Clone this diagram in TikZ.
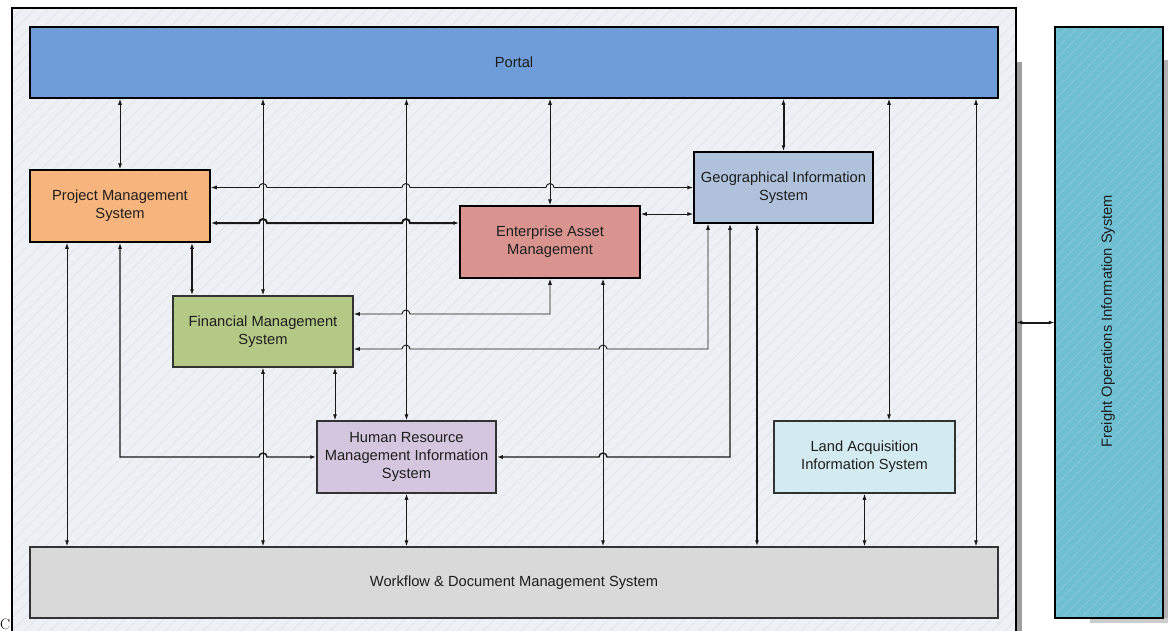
\documentclass[tikz,border=0pt]{standalone}
\usepackage{fontspec}
\newfontfamily\sys{Liberation Sans}
\usetikzlibrary{arrows.meta,patterns.meta}
\definecolor{cbg}{HTML}{EDF0F4}
\definecolor{chatch}{HTML}{DCE0E6}
\definecolor{cportal}{HTML}{6F9DD9}
\definecolor{cpms}{HTML}{F8B47D}
\definecolor{cfms}{HTML}{B5C986}
\definecolor{ceam}{HTML}{D99490}
\definecolor{cgis}{HTML}{B0C2DB}
\definecolor{chr}{HTML}{D3C6DE}
\definecolor{cland}{HTML}{D3EBF0}
\definecolor{cwf}{HTML}{D9D9D9}
\definecolor{cfr}{HTML}{6EBFD2}
\definecolor{cfrhatch}{HTML}{8CCEDD}
\definecolor{ctxt}{HTML}{1E1E1E}
\newcommand\hopR[2]{-- (#1-4,#2) arc[start angle=180,end angle=0,radius=4pt]}
\newcommand\hopL[2]{-- (#1+4,#2) arc[start angle=0,end angle=180,radius=4pt]}
\tikzset{
  sysbox/.style={draw=black, line width=1.5pt, inner sep=0pt, align=center,
    minimum width=180pt, minimum height=71pt,
    font=\sys\fontsize{14.7}{18}\selectfont, text=ctxt},
  lowbox/.style={sysbox, draw=black!80},
  conn/.style={line width=0.9pt, draw=black!90, {Latex[length=6pt,width=4pt]}-{Latex[length=6pt,width=4pt]}},
  connM/.style={conn, line width=1.4pt},
  connB/.style={conn, line width=2pt},
}
\begin{document}
\begin{tikzpicture}[x=1pt,y=-1pt]
\useasboundingbox (0,0) rectangle (1172,630);
% container
\fill[gray!75] (1016,62) rectangle (1022,640);
\node[draw=black, line width=1.5pt, minimum width=1004pt, minimum height=632pt, inner sep=0pt,
  preaction={fill=cbg}, pattern={Lines[angle=45,distance=9pt,line width=0.5pt]}, pattern color=chatch] (cont) at (514,324) {};
% freight
\fill[gray!60] (1163,60) rectangle (1168,622);
\fill[gray!40] (1090,618) rectangle (1168,623);
\node[draw=black, line width=1.5pt, minimum width=108pt, minimum height=591pt, inner sep=0pt,
  preaction={fill=cfr}, pattern={Lines[angle=45,distance=7pt,line width=0.5pt]}, pattern color=cfrhatch] (freight) at (1109,322.5) {};
\node[rotate=90, font=\sys\fontsize{14.7}{18}\selectfont, text=ctxt] (freighttxt) at (1108,321) {Freight Operations Information System};
% boxes
\node[sysbox, fill=cportal, minimum width=968pt] (portal) at (514,62.5) {Portal};
\node[sysbox, fill=cpms, minimum height=72pt] (pms) at (120,206) {Project Management\\System};
\node[lowbox, fill=cfms] (fms) at (263,331.5) {Financial Management\\System};
\node[sysbox, fill=ceam, minimum height=72pt] (eam) at (550,242) {Enterprise Asset\\Management};
\node[sysbox, fill=cgis, minimum width=179pt] (gis) at (783.5,187.5) {Geographical Information\\System};
\node[lowbox, fill=chr, minimum width=179pt, minimum height=72pt] (hr) at (406.5,457) {Human Resource\\Management Information\\System};
\node[lowbox, fill=cland, minimum width=181pt, minimum height=72pt] (land) at (864.5,457) {Land Acquisition\\Information System};
\node[lowbox, fill=cwf, minimum width=968pt] (wf) at (514,582.5) {Workflow \& Document Management System};
% stray character
\node[anchor=base west, inner sep=0pt, font=\fontsize{15}{15}\selectfont] (cchar) at (0,629) {C};
% helper coordinates
\coordinate (c67) at (67,0);
\coordinate (c192) at (192,0);
\coordinate (c214) at (0,214);
\coordinate (c223) at (0,223);
\coordinate (c314) at (0,314);
\coordinate (c335) at (335,0);
\coordinate (c603) at (603,0);
\coordinate (c708) at (708,349);
\coordinate (c730) at (730,457);
\coordinate (c757) at (757,0);
\coordinate (c889) at (889,0);
\coordinate (c976) at (976,0);
% portal verticals
\draw[conn] (portal.south -| pms.north) -- (pms.north);
\draw[conn] (portal.south -| fms.north) -- (fms.north);
\draw[conn] (portal.south -| hr.north) -- (hr.north);
\draw[conn] (portal.south -| eam.north) -- (eam.north);
\draw[connB] (portal.south -| gis.north) -- (gis.north);
\draw[conn] (portal.south -| c889) -- (land.north -| c889);
\draw[conn] (portal.south -| c976) -- (wf.north -| c976);
% horizontals with hops
\draw[conn] (gis.west) \hopL{550}{187.5} \hopL{406}{187.5} \hopL{263}{187.5} -- (pms.east |- gis.west);
\draw[connB] (pms.east |- c223) \hopR{263}{223} \hopR{406}{223} -- (eam.west |- c223);
\draw[conn] (eam.east |- c214) -- (gis.west |- c214);
% other verticals
\draw[connB] (pms.south -| c192) -- (fms.north -| c192);
\draw[conn] (pms.south -| c67) -- (wf.north -| c67);
\draw[connM] (pms.south) -- (pms.south |- hr.west) \hopR{263}{457} -- (hr.west);
\draw[conn] (eam.south) -- (eam.south |- c314) \hopL{406}{314} -- (fms.east |- c314);
\draw[conn] (gis.south -| c708) -- (c708) \hopL{603}{349} \hopL{406}{349} -- (fms.east |- c708);
\draw[connM] (gis.south -| c730) -- (c730) \hopL{603}{457} -- (hr.east);
\draw[connB] (gis.south -| c757) -- (wf.north -| c757);
\draw[conn] (eam.south -| c603) -- (wf.north -| c603);
\draw[conn] (fms.south) -- (wf.north -| fms.south);
\draw[conn] (fms.south -| c335) -- (hr.north -| c335);
\draw[conn] (hr.south) -- (wf.north -| hr.south);
\draw[conn] (land.south) -- (wf.north -| land.south);
\draw[connB] (cont.east |- freight.west) -- (freight.west);
\end{tikzpicture}
\end{document}
